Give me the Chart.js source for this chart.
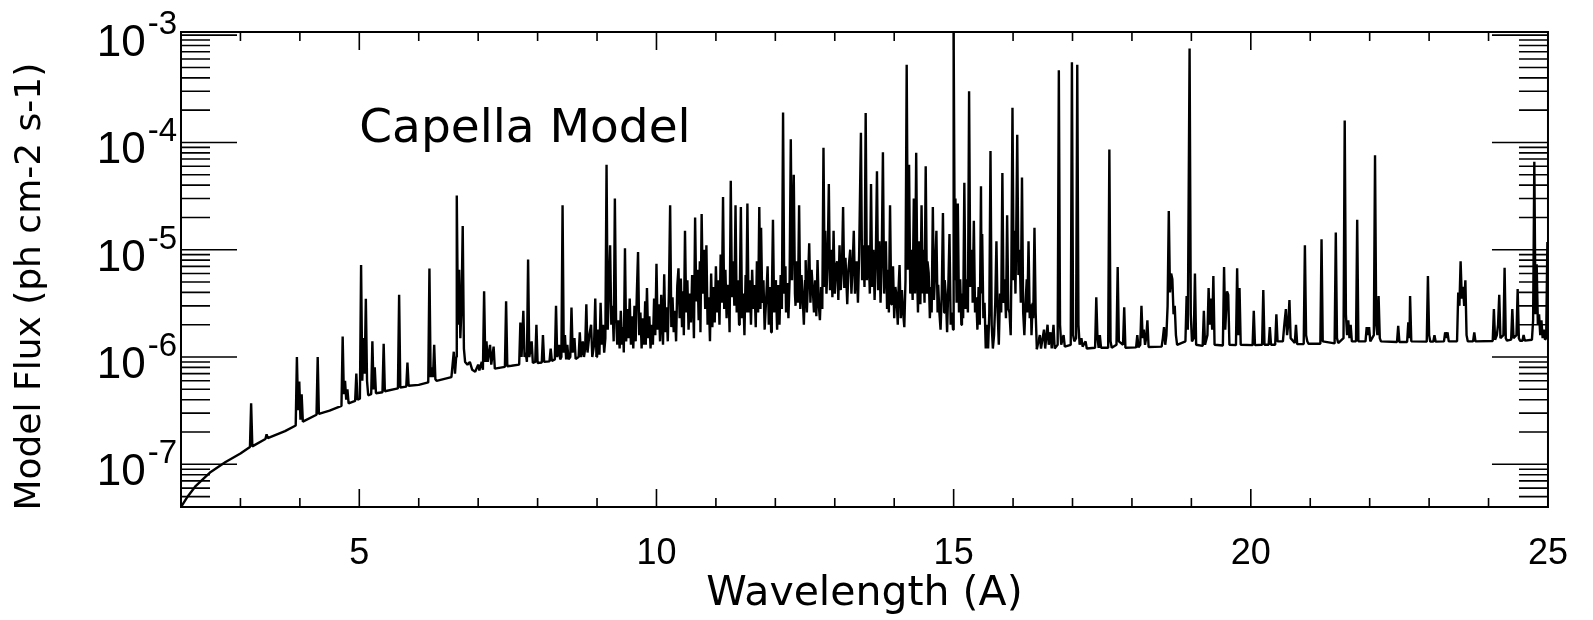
<!DOCTYPE html>
<html>
<head>
<meta charset="utf-8">
<script src="https://cdn.jsdelivr.net/npm/chart.js@4.4.0/dist/chart.umd.min.js"></script>
<style>
  html, body { margin: 0; padding: 0; background: #fff; }
  #wrap { width: 1593px; height: 620px; }
</style>
</head>
<body>
<div id="wrap"><canvas id="myChart"></canvas></div>
<script>
// flux values are in units of 1e-6 ph cm-2 s-1, wavelength in A
var UNIT = 1e-6;

// 2 - 9 A: continuum rising, isolated lines
var shortWave = [
  [2.00,0.040],[2.10,0.049],[2.25,0.063],[2.50,0.085],[2.75,0.105],[3.00,0.126],
  [3.16,0.145],[3.18,0.37],[3.20,0.147],[3.42,0.172],[3.44,0.19],[3.46,0.175],
  [3.75,0.204],[3.93,0.23],[3.95,1.0],[3.97,0.32],[3.99,0.59],[4.01,0.26],[4.03,0.45],[4.05,0.25],
  [4.28,0.29],[4.30,1.0],[4.32,0.295],[4.50,0.316],
  [4.70,0.35],[4.72,1.55],[4.74,0.45],[4.76,0.60],[4.78,0.40],[4.80,0.50],[4.82,0.37],
  [4.93,0.39],[4.95,0.70],[4.97,0.40],
  [5.01,0.41],[5.03,7.2],[5.05,0.60],[5.07,1.5],[5.09,0.70],[5.11,3.5],[5.13,0.60],[5.15,0.44],
  [5.20,0.45],[5.22,1.4],[5.24,0.50],[5.26,0.80],[5.28,0.46],
  [5.39,0.47],[5.41,1.33],[5.43,0.48],
  [5.65,0.51],[5.67,3.8],[5.69,0.52],
  [5.79,0.53],[5.81,0.89],[5.83,0.54],[6.00,0.55],
  [6.16,0.58],[6.18,6.7],[6.20,0.65],[6.22,0.80],[6.24,0.65],[6.26,1.3],[6.28,0.62],[6.30,0.60],
  [6.55,0.65],[6.59,1.12],[6.61,0.70],[6.63,1.0],[6.64,32],[6.66,2.0],[6.68,6.5],[6.70,1.5],
  [6.72,3.0],[6.74,16.6],[6.76,1.2],[6.78,0.90],[6.82,0.85],[6.86,0.90],[6.90,0.76],
  [6.95,0.73],[7.00,0.85],[7.02,0.75],[7.06,0.90],[7.08,0.76],[7.10,4.1],[7.12,0.9],[7.14,1.4],
  [7.16,0.9],[7.20,1.3],[7.22,0.85],[7.26,1.25],[7.28,0.78],
  [7.45,0.81],[7.47,3.3],[7.49,0.82],[7.56,0.83],
  [7.69,0.85],[7.71,2.1],[7.73,1.0],[7.76,2.7],[7.78,1.0],[7.80,1.1],[7.82,0.9],[7.84,8.1],
  [7.86,1.0],[7.90,1.4],[7.92,0.88],[7.96,0.9],[7.98,2.0],[8.00,0.88],
  [8.07,0.89],[8.09,1.6],[8.11,0.9],[8.20,0.91],[8.22,1.2],[8.24,0.92],
  [8.29,0.95],[8.31,3.0],[8.33,1.0],[8.36,1.3],[8.38,0.95],[8.40,1.0],[8.42,26],[8.44,1.1],
  [8.46,1.6],[8.48,0.95],[8.50,1.3],[8.52,0.95],
  [8.55,1.0],[8.57,2.9],[8.59,1.1],[8.62,1.5],[8.64,0.96],[8.69,1.0],[8.71,1.7],[8.73,1.0],
  [8.76,1.4],[8.78,1.0],[8.80,1.2],[8.82,3.1],[8.84,1.1],[8.87,1.6],[8.90,2.0],[8.92,1.0],
  [8.95,1.3],[8.97,3.5],[8.99,1.0]
];

// 9 - 16.4 A: dense Fe L line forest
var forest = [
  [8.99,1.0],[9.00,1.0],[9.02,1.8],[9.04,1.05],[9.06,3.2],[9.08,1.3],[9.10,2.0],[9.12,1.1],[9.14,1.5],
  [9.16,62],[9.18,1.8],[9.20,4.5],[9.22,11],[9.24,2.0],[9.26,3.0],[9.28,1.4],[9.30,30],[9.32,2.3],
  [9.34,1.3],[9.36,2.2],[9.38,1.2],[9.40,2.7],[9.42,1.3],[9.44,1.9],[9.45,1.1],[9.47,10.3],[9.49,1.4],
  [9.51,2.8],[9.53,1.5],[9.55,3.5],[9.57,1.3],[9.59,2.4],[9.61,1.2],[9.63,3.0],[9.65,1.4],[9.67,4.0],
  [9.69,9.5],[9.71,1.6],[9.73,2.6],[9.75,1.2],[9.77,2.3],[9.79,1.3],[9.81,3.3],[9.82,1.3],[9.84,4.4],
  [9.86,1.5],[9.88,2.4],[9.90,1.2],[9.92,2.0],[9.94,1.3],[9.96,3.5],[9.98,1.6],[10.00,7.4],[10.02,1.8],
  [10.04,3.1],[10.06,1.4],[10.08,3.8],[10.10,1.9],[10.11,1.3],[10.13,5.9],[10.15,1.7],[10.17,2.9],
  [10.19,1.4],[10.21,4.2],[10.23,26],[10.25,1.9],[10.27,3.6],[10.29,1.7],[10.31,2.7],[10.33,1.4],
  [10.35,4.6],[10.37,6.7],[10.39,2.3],[10.41,5.4],[10.43,1.9],[10.45,4.1],[10.46,1.6],[10.48,15],
  [10.50,2.6],[10.52,5.2],[10.54,1.8],[10.56,3.9],[10.58,2.1],[10.60,5.8],[10.62,2.7],[10.63,1.5],
  [10.65,20],[10.67,3.3],[10.69,6.5],[10.71,2.2],[10.73,7.8],[10.74,1.7],[10.76,21.5],[10.78,3.9],
  [10.80,10],[10.82,2.8],[10.84,11],[10.86,2.0],[10.88,3.6],[10.90,1.4],[10.92,6.0],[10.94,1.9],
  [10.96,4.5],[10.98,2.1],[11.00,7.0],[11.02,2.6],[11.04,5.2],[11.06,2.0],[11.08,9.0],[11.10,3.2],
  [11.12,31],[11.14,2.8],[11.16,6.5],[11.18,2.3],[11.20,4.7],[11.22,3.0],[11.23,1.7],[11.25,44],
  [11.27,3.6],[11.29,7.8],[11.31,3.0],[11.33,26],[11.35,2.6],[11.37,5.2],[11.39,2.0],[11.40,3.2],
  [11.42,25],[11.44,2.3],[11.46,3.9],[11.48,1.6],[11.50,5.8],[11.51,2.6],[11.53,27],[11.55,2.6],
  [11.57,5.2],[11.59,2.0],[11.61,6.5],[11.63,2.8],[11.65,4.7],[11.67,1.9],[11.69,7.8],[11.71,2.6],
  [11.73,25],[11.75,2.8],[11.76,16],[11.78,3.2],[11.80,5.2],[11.82,1.8],[11.85,3.9],[11.87,7.0],
  [11.89,2.0],[11.91,4.5],[11.93,1.7],[11.94,3.2],[11.96,19],[11.98,2.6],[12.00,5.2],[12.01,4.3],
  [12.03,1.8],[12.05,4.7],[12.07,2.0],[12.09,5.8],[12.11,2.8],[12.13,190],[12.15,3.9],[12.17,7.0],
  [12.18,2.6],[12.20,4.9],[12.22,2.3],[12.24,5.2],[12.26,107],[12.28,5.2],[12.31,50],[12.33,3.9],
  [12.34,3.0],[12.36,7.8],[12.38,3.2],[12.40,26],[12.42,2.8],[12.44,5.8],[12.46,3.6],[12.48,2.0],
  [12.50,5.2],[12.51,8.0],[12.53,2.6],[12.55,5.2],[12.57,11.5],[12.59,3.2],[12.61,6.5],[12.63,4.3],
  [12.65,2.6],[12.67,5.2],[12.69,2.4],[12.71,8.0],[12.73,3.1],[12.75,2.2],[12.77,4.5],[12.79,2.8],
  [12.81,89],[12.83,4.5],[12.84,15],[12.86,3.9],[12.88,7.8],[12.90,41],[12.92,4.2],[12.94,10],
  [12.96,3.6],[12.98,15],[13.00,3.9],[13.02,7.0],[13.04,7.8],[13.06,3.4],[13.08,11],[13.10,4.2],
  [13.12,6.5],[13.14,25],[13.16,4.4],[13.18,8.4],[13.19,6.1],[13.21,3.1],[13.23,6.5],[13.26,10],
  [13.28,3.9],[13.30,7.0],[13.32,15],[13.34,3.9],[13.36,7.8],[13.37,7.0],[13.39,3.2],[13.41,9.0],
  [13.44,123],[13.46,5.2],[13.48,11],[13.50,4.5],[13.52,188],[13.54,5.2],[13.56,11],[13.57,9.0],
  [13.59,3.9],[13.61,41],[13.63,4.5],[13.65,10],[13.67,3.4],[13.69,7.8],[13.71,54],[13.73,4.2],
  [13.75,12],[13.77,3.2],[13.79,8.4],[13.81,81],[13.83,3.9],[13.86,12],[13.88,2.8],[13.90,6.5],
  [13.91,2.6],[13.93,26],[13.95,3.1],[13.96,5.8],[13.98,7.0],[14.00,2.3],[14.02,4.5],[14.04,3.6],
  [14.06,2.0],[14.07,3.9],[14.09,7.2],[14.11,2.3],[14.13,4.2],[14.15,2.6],[14.17,1.9],[14.19,5.2],
  [14.21,530],[14.23,6.5],[14.25,62],[14.27,3.9],[14.29,10],[14.31,3.4],[14.33,30],[14.35,3.9],
  [14.37,80],[14.39,4.5],[14.40,2.6],[14.42,12],[14.44,3.1],[14.46,26],[14.48,3.9],[14.49,10],
  [14.51,3.2],[14.53,60],[14.55,3.9],[14.56,7.8],[14.58,6.1],[14.60,2.3],[14.62,4.5],[14.63,2.6],
  [14.65,25],[14.67,3.4],[14.69,6.5],[14.71,15],[14.73,2.6],[14.74,4.7],[14.76,2.6],[14.78,1.8],
  [14.80,3.9],[14.82,22],[14.84,2.6],[14.85,5.2],[14.87,3.6],[14.89,1.7],[14.91,4.5],[14.93,14],
  [14.95,2.0],[14.97,2.6],[14.99,1.8],[15.00,1050],[15.02,5.2],[15.03,30],[15.05,3.2],[15.07,27],
  [15.09,2.6],[15.11,5.3],[15.13,2.0],[15.14,3.9],[15.16,2.3],[15.18,42],[15.20,2.8],[15.22,5.3],
  [15.24,2.6],[15.26,300],[15.28,4.5],[15.31,10],[15.32,3.2],[15.34,18.6],[15.36,2.6],[15.38,3.6],
  [15.40,1.8],[15.42,4.5],[15.44,2.0],[15.46,39],[15.47,3.9],[15.48,14],[15.50,2.3],[15.52,3.2],
  [15.54,1.2],[15.56,2.0],[15.58,1.2],[15.60,2.6],[15.62,83],[15.64,2.0],[15.66,1.2],[15.68,1.6],
  [15.70,3.2],[15.72,12],[15.74,2.6],[15.76,1.3],[15.78,3.9],[15.80,2.6],[15.82,52],[15.84,3.2],
  [15.86,5.3],[15.88,2.3],[15.90,21],[15.92,2.8],[15.94,2.6],[15.96,1.6],[15.97,5.2],[15.99,210],
  [16.01,5.2],[16.02,15],[16.04,3.9],[16.05,10],[16.07,118],[16.09,5.8],[16.11,10],[16.13,3.2],
  [16.15,47],[16.17,2.6],[16.19,1.6],[16.21,3.2],[16.23,5.3],[16.24,2.6],[16.26,12],[16.28,2.3],
  [16.30,3.1],[16.31,1.6],[16.33,3.2],[16.34,2.3],[16.36,16],[16.38,2.6],[16.40,1.18]
];

// 16.4 - 25 A: O, N lines on a flat continuum
var longWave = [
  [16.40,1.18],[16.45,1.6],[16.47,1.2],[16.52,1.8],[16.54,1.2],[16.58,2.0],[16.60,1.3],[16.63,1.7],
  [16.65,1.2],[16.68,2.0],[16.70,1.2],[16.75,1.3],[16.77,470],[16.79,2.0],[16.81,1.3],[16.85,1.6],
  [16.87,1.25],[16.97,1.3],[16.99,560],[17.01,1.6],[17.03,1.4],[17.06,1.5],[17.08,530],[17.10,2.0],
  [17.12,1.3],[17.15,1.5],[17.17,1.25],[17.22,1.4],[17.24,1.2],[17.38,1.22],[17.40,3.6],[17.42,1.5],
  [17.44,1.22],[17.46,1.6],[17.48,1.22],[17.60,1.22],[17.62,86],[17.64,1.4],[17.66,1.22],[17.74,1.3],
  [17.76,6.9],[17.78,1.4],[17.85,1.3],[17.87,2.9],[17.89,1.22],[18.07,1.23],[18.09,1.6],[18.11,1.23],
  [18.14,1.3],[18.16,3.0],[18.18,1.5],[18.20,1.8],[18.22,1.3],[18.24,1.5],[18.26,2.2],[18.28,1.24],
  [18.50,1.25],[18.52,1.5],[18.54,1.9],[18.56,1.3],[18.58,1.6],[18.60,3.0],[18.62,23],[18.64,4.0],
  [18.66,6.0],[18.68,5.3],[18.70,2.5],[18.72,3.0],[18.74,1.6],[18.76,1.3],[18.90,1.4],[18.92,3.7],
  [18.94,1.8],[18.97,750],[18.99,2.5],[19.01,1.4],[19.04,1.5],[19.06,6.0],[19.08,1.3],[19.19,1.27],
  [19.21,2.7],[19.23,1.3],[19.27,1.6],[19.29,4.4],[19.31,2.0],[19.33,3.5],[19.35,1.8],[19.37,5.7],
  [19.39,1.3],[19.53,1.28],[19.55,6.9],[19.57,1.8],[19.60,4.1],[19.62,3.8],[19.64,1.3],[19.75,1.29],
  [19.77,6.7],[19.79,1.6],[19.81,4.4],[19.83,1.3],[20.03,1.29],[20.05,2.7],[20.07,1.29],[20.19,1.3],
  [20.21,4.2],[20.23,1.3],[20.30,1.3],[20.32,1.9],[20.34,1.3],[20.41,1.3],[20.43,2.5],[20.45,1.4],
  [20.54,1.4],[20.56,1.9],[20.59,2.8],[20.61,1.6],[20.63,2.0],[20.65,3.4],[20.67,1.5],[20.74,1.35],
  [20.76,2.0],[20.78,1.32],[20.89,1.32],[20.91,11],[20.93,1.6],[20.95,1.4],[20.97,1.33],[21.17,1.33],
  [21.19,12.5],[21.21,1.4],[21.41,1.34],[21.43,14.5],[21.45,1.5],[21.47,1.35],[21.56,1.5],[21.58,160],
  [21.60,2.5],[21.62,1.6],[21.64,2.2],[21.66,1.5],[21.68,2.0],[21.70,1.4],[21.77,1.4],[21.79,19],
  [21.81,1.4],[21.93,1.4],[21.95,1.9],[21.97,1.6],[21.99,1.9],[22.01,1.4],[22.07,1.6],[22.09,76],
  [22.11,2.0],[22.13,1.6],[22.15,3.7],[22.17,1.5],[22.19,1.4],[22.46,1.38],[22.48,1.95],[22.50,1.38],
  [22.63,1.38],[22.65,2.1],[22.67,1.5],[22.68,3.7],[22.70,1.4],[22.96,1.39],[22.98,5.7],[23.00,1.6],
  [23.02,1.39],[23.07,1.39],[23.09,1.6],[23.11,1.39],[23.25,1.4],[23.27,1.7],[23.29,1.5],[23.31,1.7],
  [23.33,1.4],[23.47,1.4],[23.49,4.0],[23.51,3.0],[23.53,7.8],[23.55,3.5],[23.57,4.5],[23.59,3.0],
  [23.61,5.2],[23.63,1.6],[23.65,1.4],[23.74,1.4],[23.76,1.7],[23.78,1.4],[24.07,1.41],[24.09,2.8],
  [24.11,1.45],[24.14,1.6],[24.16,2.0],[24.18,3.8],[24.20,1.5],[24.25,1.6],[24.27,6.8],[24.29,1.5],
  [24.31,1.42],[24.38,1.45],[24.40,2.8],[24.42,1.5],[24.47,1.6],[24.49,4.3],[24.51,1.5],[24.53,1.42],
  [24.57,1.42],[24.59,1.6],[24.61,1.42],[24.73,1.45],[24.75,2.2],[24.77,66],[24.79,2.5],[24.81,7.3],
  [24.83,2.0],[24.85,2.5],[24.87,1.6],[24.89,2.2],[24.91,1.5],[24.93,1.8],[24.95,1.45],[24.97,1.5],
  [24.99,11.8],[25.00,4.0]
];

var xLabels = [5, 10, 15, 20, 25];
var yDecades = [1e-7, 1e-6, 1e-5, 1e-4, 1e-3];
var yExponents = ['-7', '-6', '-5', '-4', '-3'];
var labelText = 'Capella Model';
var labelAt = [5.0, 1e-4];

function toPoints(seg) {
  return seg.map(function(p) { return {x: p[0], y: p[1] * UNIT}; });
}

function spectrum(seg) {
  return {
    data: toPoints(seg),
    borderColor: '#000',
    borderWidth: 2.4,
    borderJoinStyle: 'bevel',
    pointRadius: 0,
    tension: 0,
    fill: false
  };
}

// IDL style frame: inward ticks on all four sides, exponent labels, text label
var idlFrame = {
  id: 'idlFrame',
  afterDatasetsDraw: function(chart) {
    var ctx = chart.ctx, a = chart.chartArea;
    var x = chart.scales.x, y = chart.scales.y;
    ctx.save();
    ctx.strokeStyle = '#000';
    ctx.lineWidth = 1.6;
    ctx.beginPath();
    for (var w = 3; w < 25; w++) {
      var px = x.getPixelForValue(w);
      var len = w % 5 === 0 ? 18 : 9;
      ctx.moveTo(px, a.bottom); ctx.lineTo(px, a.bottom - len);
      ctx.moveTo(px, a.top); ctx.lineTo(px, a.top + len);
    }
    for (var e = -8; e <= -3; e++) {
      for (var m = 1; m <= 9; m++) {
        var v = m * Math.pow(10, e);
        if (v < y.min * 0.999 || v > y.max) continue;
        var py = y.getPixelForValue(v);
        var l = m === 1 ? 56 : 29;
        ctx.moveTo(a.left, py); ctx.lineTo(a.left + l, py);
        ctx.moveTo(a.right, py); ctx.lineTo(a.right - l, py);
      }
    }
    ctx.stroke();
    ctx.lineWidth = 2;
    ctx.strokeRect(a.left, a.top, a.right - a.left, a.bottom - a.top);

    ctx.fillStyle = '#000';
    ctx.textBaseline = 'alphabetic';
    ctx.textAlign = 'right';
    yDecades.forEach(function(d, i) {
      var py = y.getPixelForValue(d);
      ctx.font = '33px "Liberation Sans"';
      var sw = ctx.measureText(yExponents[i]).width;
      ctx.fillText(yExponents[i], a.left - 4, py - 1);
      ctx.font = '44px "Liberation Sans"';
      ctx.fillText('10', a.left - 6 - sw, py + 21);
    });

    ctx.textAlign = 'left';
    ctx.font = '47px "DejaVu Sans"';
    ctx.fillText(labelText, x.getPixelForValue(labelAt[0]), y.getPixelForValue(labelAt[1]));
    ctx.restore();
  }
};

new Chart('myChart', {
  type: 'line',
  data: {
    datasets: [spectrum(shortWave), spectrum(forest), spectrum(longWave)]
  },
  options: {
    responsive: true,
    maintainAspectRatio: false,
    animation: false,
    layout: { padding: { left: 0, right: 33, top: 32, bottom: 0 } },
    plugins: {
      legend: { display: false },
      tooltip: { enabled: false }
    },
    scales: {
      x: {
        type: 'linear',
        min: 2,
        max: 25,
        afterBuildTicks: function(s) {
          s.ticks = xLabels.map(function(v) { return {value: v}; });
        },
        afterFit: function(s) { s.height = 113; },
        grid: { display: false, drawTicks: false },
        border: { display: false },
        ticks: {
          color: '#000',
          padding: 25,
          maxRotation: 0,
          autoSkip: false,
          font: { family: 'Liberation Sans', size: 36 }
        },
        title: {
          display: true,
          text: 'Wavelength (A)',
          color: '#000',
          font: { family: 'DejaVu Sans', size: 41 },
          padding: { top: 0, bottom: 1 }
        }
      },
      y: {
        type: 'logarithmic',
        min: 4.0e-8,
        max: 1.07e-3,
        afterFit: function(s) { s.width = 181; },
        grid: { display: false, drawTicks: false },
        border: { display: false },
        ticks: { display: false },
        title: {
          display: true,
          text: 'Model Flux (ph cm-2 s-1)   ',
          color: '#000',
          font: { family: 'DejaVu Sans', size: 36 },
          padding: { top: 9, bottom: 0 }
        }
      }
    }
  },
  plugins: [idlFrame]
});
</script>
</body>
</html>
